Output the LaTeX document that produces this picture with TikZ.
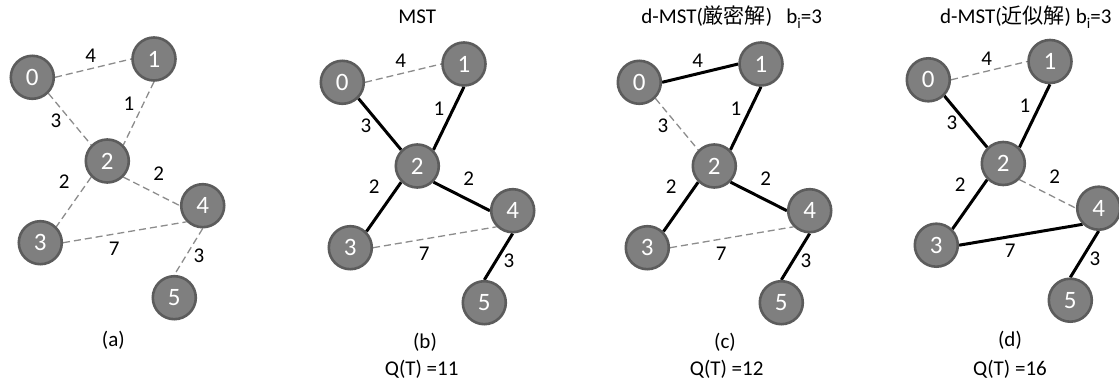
\documentclass[tikz,border=0pt]{standalone}
\usepackage{fontspec}
\setmainfont{Carlito}
\newfontfamily\cjkfont{Noto Sans CJK JP}
\usetikzlibrary{backgrounds}

\definecolor{vfill}{RGB}{127,127,127}
\definecolor{vborder}{RGB}{92,92,92}
\definecolor{egray}{RGB}{140,140,140}

\tikzset{
  vertex/.style={circle, fill=vfill, draw=vborder, line width=2.6pt,
    minimum size=43pt, inner sep=0pt, text=white,
    font=\fontsize{25}{29}\selectfont},
  weight/.style={inner sep=0pt, font=\fontsize{21}{25}\selectfont},
  caption/.style={inner sep=0pt, anchor=base, font=\fontsize{21}{25}\selectfont},
  tree/.style={draw=black, line width=3pt},
  spare/.style={draw=egray, line width=1.3pt, dash pattern=on 7pt off 4pt},
}

\newcommand\subi{\raisebox{-5pt}{\fontsize{15}{15}\selectfont i}}

% one weighted graph; edge looks come from the styles e01 ... e45,
% each edge joins fixed connection points on the two circles
\newcommand\weightedgraph[1]{%
  \node[vertex] (#1v0) at (32.3,77.3) {0};
  \node[vertex] (#1v1) at (154,59) {1};
  \node[vertex] (#1v2) at (107.3,161) {2};
  \node[vertex] (#1v3) at (40.3,242.7) {3};
  \node[vertex] (#1v4) at (202.7,205.7) {4};
  \node[vertex] (#1v5) at (174.3,297.7) {5};
  \begin{pgfonlayer}{background}
    \draw[e01] (#1v0.east) -- (#1v1.west);
    \draw[e12] (#1v1.south) -- (#1v2.north east);
    \draw[e02] (#1v0.south east) -- (#1v2.north west);
    \draw[e23] (#1v2.south west) -- (#1v3.north east);
    \draw[e24] (#1v2.south east) -- (#1v4.west);
    \draw[e34] (#1v3.east) -- (#1v4.south west);
    \draw[e45] (#1v4.south) -- (#1v5.north);
  \end{pgfonlayer}
  \node[weight] (#1w01) at (90.7,56) {4};
  \node[weight] (#1w12) at (129,103.3) {1};
  \node[weight] (#1w02) at (56,120.7) {3};
  \node[weight] (#1w23) at (64.3,181.7) {2};
  \node[weight] (#1w24) at (158.7,174) {2};
  \node[weight] (#1w34) at (114.3,248.3) {7};
  \node[weight] (#1w45) at (199,256) {3};
}

\begin{document}
\begin{tikzpicture}[x=1pt,y=-1pt]
\useasboundingbox (0,0) rectangle (1119,385);

% (a) full graph
\begin{scope}[e01/.style=spare, e12/.style=spare, e02/.style=spare,
  e23/.style=spare, e24/.style=spare, e34/.style=spare, e45/.style=spare]
  \weightedgraph{a}
\end{scope}

% (b) minimum spanning tree
\begin{scope}[shift={(310,5)}, e01/.style=spare, e12/.style=tree, e02/.style=tree,
  e23/.style=tree, e24/.style=tree, e34/.style=spare, e45/.style=tree]
  \weightedgraph{b}
\end{scope}

% (c) degree-constrained tree, exact
\begin{scope}[shift={(607,5)}, e01/.style=tree, e12/.style=tree, e02/.style=spare,
  e23/.style=tree, e24/.style=tree, e34/.style=spare, e45/.style=tree]
  \weightedgraph{c}
\end{scope}

% (d) degree-constrained tree, approximate
\begin{scope}[shift={(896,2.5)}, e01/.style=spare, e12/.style=tree, e02/.style=tree,
  e23/.style=tree, e24/.style=spare, e34/.style=tree, e45/.style=tree]
  \weightedgraph{d}
\end{scope}

% titles
\node[caption] (tb) at (417.2,23.3) {MST};
\node[caption] (tc) at (731.7,23.3) {d-MST({\cjkfont 厳密解})\hspace{0.45em} b\subi=3};
\node[caption] (td) at (1025.8,23.3) {d-MST({\cjkfont 近似解}) b\subi=3};

% captions and costs
\node[caption] (la) at (113.3,346.7) {(a)};
\node[caption] (lb) at (425,348.5) {(b)};
\node[caption] (lc) at (725,348.5) {(c)};
\node[caption] (ld) at (1010,346.7) {(d)};
\node[caption] (qb) at (421.7,375) {Q(T) =11};
\node[caption] (qc) at (726.7,375) {Q(T) =12};
\node[caption] (qd) at (1010,375) {Q(T) =16};
\end{tikzpicture}
\end{document}
